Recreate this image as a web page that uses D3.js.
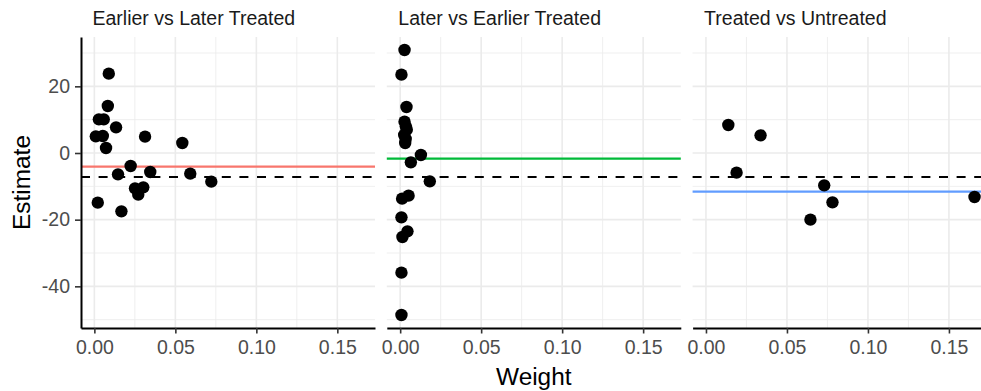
<!DOCTYPE html>
<html>
<head>
<meta charset="utf-8">
<script src="https://cdn.jsdelivr.net/npm/d3@7"></script>
<style>
  body { margin: 0; background: #fff; }
  svg { display: block; font-family: "Liberation Sans", Arial, sans-serif; }
</style>
</head>
<body>
<div id="chart"></div>
<script>
// Facet titles
const panels = ["Earlier vs Later Treated", "Later vs Earlier Treated", "Treated vs Untreated"];

// Weight / estimate pairs read off each facet
const weightsEarlier = [0.0089, 0.0083, 0.0028, 0.0058, 0.0134, 0.0009, 0.0052, 0.0072, 0.0313, 0.0543,
    0.0224, 0.0146, 0.0345, 0.0592, 0.0722, 0.0251, 0.0302, 0.0271, 0.0021, 0.0167];
const estimatesEarlier = [23.8, 14.1, 10.1, 10.1, 7.7, 5.0, 5.1, 1.5, 4.9, 3.0,
    -3.9, -6.4, -5.7, -6.2, -8.6, -10.6, -10.3, -12.5, -14.9, -17.5];

const weightsLater = [0.0027, 0.0008, 0.0039, 0.0027, 0.0035, 0.0041, 0.0025, 0.0034, 0.0031, 0.0128,
    0.0066, 0.0183, 0.0052, 0.0012, 0.0008, 0.0045, 0.0014, 0.0008, 0.0008];
const estimatesLater = [30.9, 23.5, 13.8, 9.4, 8.0, 7.0, 5.4, 4.2, 3.0, -0.6,
    -2.8, -8.5, -12.8, -13.7, -19.3, -23.5, -25.2, -35.9, -48.6];

const weightsUntreated = [0.0138, 0.0337, 0.0189, 0.0730, 0.0781, 0.0645, 0.1658];
const estimatesUntreated = [8.4, 5.3, -5.9, -9.7, -14.8, -20.0, -13.2];

// Average per facet and the overall estimate (dashed line)
const panelMeans = [-4.1, -1.7, -11.6];
const overall = -7.2;
const meanColors = ["#F8766D", "#00BA38", "#619CFF"];

// Axis ticks
const xTicks = [0, 0.05, 0.10, 0.15];
const xMinor = [0.025, 0.075, 0.125];
const yTicks = [-40, -20, 0, 20];
const yMinor = [-50, -30, -10, 10, 30];

const series = [
    { w: weightsEarlier, e: estimatesEarlier },
    { w: weightsLater, e: estimatesLater },
    { w: weightsUntreated, e: estimatesUntreated }
];

const width = 981, height = 391;
const panelW = 294, gap = 11.8;
const plotTop = 37, plotBottom = 328, plotLeft = 81;
const gridCol = "#EBEBEB";

const svg = d3.select("#chart").append("svg")
    .attr("width", width).attr("height", height);

const x = d3.scaleLinear().domain([-0.00825, 0.17325]).range([0, panelW]);
const y = d3.scaleLinear().domain([-52.5, 34.8]).range([plotBottom, plotTop]);

panels.forEach((name, i) => {
    const g = svg.append("g")
        .attr("transform", "translate(" + (plotLeft + i * (panelW + gap)) + ",0)");

    // minor grid
    g.selectAll(".ym").data(yMinor).enter().append("line")
        .attr("x1", 0).attr("x2", panelW)
        .attr("y1", d => y(d)).attr("y2", d => y(d))
        .attr("stroke", gridCol).attr("stroke-width", 0.8);
    g.selectAll(".xm").data(xMinor).enter().append("line")
        .attr("x1", d => x(d)).attr("x2", d => x(d))
        .attr("y1", plotTop).attr("y2", plotBottom)
        .attr("stroke", gridCol).attr("stroke-width", 0.8);
    // major grid
    g.selectAll(".yg").data(yTicks).enter().append("line")
        .attr("x1", 0).attr("x2", panelW)
        .attr("y1", d => y(d)).attr("y2", d => y(d))
        .attr("stroke", gridCol).attr("stroke-width", 1.6);
    g.selectAll(".xg").data(xTicks).enter().append("line")
        .attr("x1", d => x(d)).attr("x2", d => x(d))
        .attr("y1", plotTop).attr("y2", plotBottom)
        .attr("stroke", gridCol).attr("stroke-width", 1.6);

    // facet mean and overall estimate
    g.append("line")
        .attr("x1", 0).attr("x2", panelW)
        .attr("y1", y(panelMeans[i])).attr("y2", y(panelMeans[i]))
        .attr("stroke", meanColors[i]).attr("stroke-width", 2.2);
    g.append("line")
        .attr("x1", 0).attr("x2", panelW)
        .attr("y1", y(overall)).attr("y2", y(overall))
        .attr("stroke", "#000").attr("stroke-width", 2)
        .attr("stroke-dasharray", "9,8.6");

    // points
    const s = series[i];
    g.selectAll("circle").data(d3.range(s.w.length)).enter().append("circle")
        .attr("cx", k => x(s.w[k]))
        .attr("cy", k => y(s.e[k]))
        .attr("r", 6.2)
        .attr("fill", "#000");

    // x axis
    const xa = g.append("g")
        .attr("transform", "translate(0," + plotBottom + ")")
        .call(d3.axisBottom(x).tickValues(xTicks).tickFormat(d => d.toFixed(2))
            .tickSizeInner(5.5).tickSizeOuter(0).tickPadding(6));
    xa.select(".domain").attr("stroke", "#000").attr("stroke-width", 2);
    xa.selectAll(".tick line").attr("stroke", "#333").attr("stroke-width", 1.6);
    xa.selectAll("text").attr("fill", "#4D4D4D").style("font-size", "19.5px")
        .attr("dy", "0.73em");

    if (i === 0) {
        // plain hyphen for negatives, as in the original
        const ya = g.append("g")
            .call(d3.axisLeft(y).tickValues(yTicks).tickFormat(d => String(d))
                .tickSizeInner(6).tickSizeOuter(0).tickPadding(5));
        ya.select(".domain").attr("stroke", "#000").attr("stroke-width", 2);
        ya.selectAll(".tick line").attr("stroke", "#333").attr("stroke-width", 1.6);
        ya.selectAll("text").attr("fill", "#4D4D4D").style("font-size", "19.5px");
    }

    // strip title
    g.append("text")
        .attr("x", 11.5).attr("y", 25)
        .attr("fill", "#1A1A1A")
        .style("font-size", "19.5px")
        .text(name);
});

// axis titles
svg.append("text")
    .attr("x", plotLeft + (3 * panelW + 2 * gap) / 2).attr("y", 384.5)
    .attr("text-anchor", "middle")
    .style("font-size", "24.4px")
    .text("Weight");

svg.append("text")
    .attr("transform", "translate(29.5," + (plotTop + plotBottom) / 2 + ") rotate(-90)")
    .attr("text-anchor", "middle")
    .style("font-size", "24.4px")
    .text("Estimate");
</script>
</body>
</html>
